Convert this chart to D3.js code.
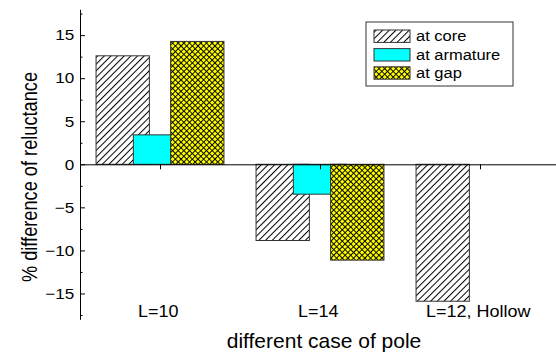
<!DOCTYPE html>
<html>
<head>
<meta charset="utf-8">
<script src="https://cdn.jsdelivr.net/npm/d3@7/dist/d3.min.js"></script>
<style>
  html, body { margin: 0; padding: 0; background: #fff; }
  svg { display: block; }
  text { font-family: "Liberation Sans", Arial, sans-serif; fill: #000; }
</style>
</head>
<body>
<svg id="chart" width="556" height="354"></svg>
<script>
// Cases of pole along the x axis
const categories = ["L=10", "L=14", "L=12, Hollow"];

// % difference of reluctance for each location (null = not measured)
const atCore     = [12.6, -8.85, -15.9];
const atArmature = [3.42, -3.47, null];
const atGap      = [14.27, -11.13, null];

const seriesNames = ["at core", "at armature", "at gap"];

// Axis ticks
const yMajorTicks = [-15, -10, -5, 0, 5, 10, 15];
const yTickLabels = ["\u221215", "\u221210", "\u22125", "0", "5", "10", "15"];
const yMinorTicks = [-17.5, -12.5, -7.5, -2.5, 2.5, 7.5, 12.5, 17.5];

const svg = d3.select("#chart");

// Scales
const x = d3.scaleLinear().domain([0.5, 3.5]).range([80, 560]);
const y = d3.scaleLinear().domain([-18, 18]).range([319.3, 9.3]);

// Fill patterns
const defs = svg.append("defs");
const hs = 4.7;
const hatch = defs.append("pattern")
  .attr("id", "hatch").attr("patternUnits", "userSpaceOnUse")
  .attr("width", hs).attr("height", hs)
  .attr("patternTransform", "rotate(45)");
hatch.append("rect").attr("width", hs).attr("height", hs).attr("fill", "#fff");
hatch.append("line").attr("x1", 0.5).attr("y1", 0).attr("x2", 0.5).attr("y2", hs)
  .attr("stroke", "#000").attr("stroke-width", 1);

const cs = 4.0;
const cross = defs.append("pattern")
  .attr("id", "cross").attr("patternUnits", "userSpaceOnUse")
  .attr("width", cs).attr("height", cs)
  .attr("patternTransform", "rotate(45)");
cross.append("rect").attr("width", cs).attr("height", cs).attr("fill", "#ffff00");
cross.append("path").attr("d", `M0.5,0V${cs}M0,0.5H${cs}`)
  .attr("stroke", "#000").attr("stroke-width", 0.95).attr("fill", "none");

const fills = ["url(#hatch)", "#00ffff", "url(#cross)"];
const seriesValues = [atCore, atArmature, atGap];
const offsets = [-0.233, 0, 0.233];   // bar centre offset within a case (x units)
const barW = 1 / 3;                   // bar width (x units)

// Y axis: major ticks pointing inward with labels
const yAxis = d3.axisLeft(y)
  .tickValues(yMajorTicks)
  .tickFormat((d, i) => yTickLabels[i])
  .tickSizeInner(-5).tickSizeOuter(0).tickPadding(5);
const gy = svg.append("g").attr("transform", "translate(80,0)").call(yAxis);
gy.select(".domain").attr("stroke", "#000");
gy.selectAll(".tick line").attr("stroke", "#000");
gy.selectAll(".tick text")
  .attr("font-size", 15)
  .attr("font-family", "Liberation Sans, Arial, sans-serif")
  .attr("transform", "scale(1.14,1)");

// Minor ticks
const yMinor = d3.axisLeft(y).tickValues(yMinorTicks).tickFormat("")
  .tickSizeInner(-2.5).tickSizeOuter(0);
const gym = svg.append("g").attr("transform", "translate(80,0)").call(yMinor);
gym.select(".domain").remove();
gym.selectAll(".tick line").attr("stroke", "#000");

// Bars
seriesValues.forEach((vals, s) => {
  svg.append("g").selectAll("rect")
    .data(vals.map((v, i) => ({ v, i })).filter(d => d.v !== null))
    .join("rect")
    .attr("x", d => x(d.i + 1 + offsets[s] - barW / 2))
    .attr("width", d => x(barW) - x(0))
    .attr("y", d => y(Math.max(0, d.v)))
    .attr("height", d => Math.abs(y(d.v) - y(0)))
    .attr("fill", fills[s])
    .attr("stroke", "#333")
    .attr("stroke-width", 1);
});

// Zero line with case ticks
const xAxis = d3.axisBottom(x).tickValues([1, 2, 3]).tickFormat("")
  .tickSizeInner(5).tickSizeOuter(0);
const gx = svg.append("g").attr("transform", `translate(0,${y(0)})`).call(xAxis);
gx.select(".domain").attr("stroke", "#000");
gx.selectAll(".tick line").attr("stroke", "#000");

// Case labels along the bottom
svg.append("g").selectAll("text")
  .data(categories)
  .join("text")
  .attr("transform", (d, i) => `translate(${x(i + 1) - 1.8},316.7) scale(1.06,1)`)
  .attr("text-anchor", "middle")
  .attr("font-size", 17)
  .text(d => d);

// Axis titles
svg.append("text")
  .attr("transform", "translate(324,347.5) scale(1.05,1)")
  .attr("text-anchor", "middle")
  .attr("font-size", 20)
  .text("different case of pole");

svg.append("text")
  .attr("transform", "translate(37,177) scale(1.22,1) rotate(-90)")
  .attr("text-anchor", "middle")
  .attr("font-size", 18.2)
  .text("% difference of reluctance");

// Legend
const lg = svg.append("g");
lg.append("rect")
  .attr("x", 366).attr("y", 22).attr("width", 147).attr("height", 64)
  .attr("fill", "#fff").attr("stroke", "#333").attr("stroke-width", 1);
const rowsY = [36.2, 54.8, 73];
seriesNames.forEach((name, s) => {
  lg.append("rect")
    .attr("x", 374).attr("y", rowsY[s] - 6.2)
    .attr("width", 36).attr("height", 12.4)
    .attr("fill", fills[s]).attr("stroke", "#333").attr("stroke-width", 1);
  lg.append("text")
    .attr("transform", `translate(416,${rowsY[s] + 4.8}) scale(1.1,1)`)
    .attr("font-size", 15)
    .text(name);
});
</script>
</body>
</html>
